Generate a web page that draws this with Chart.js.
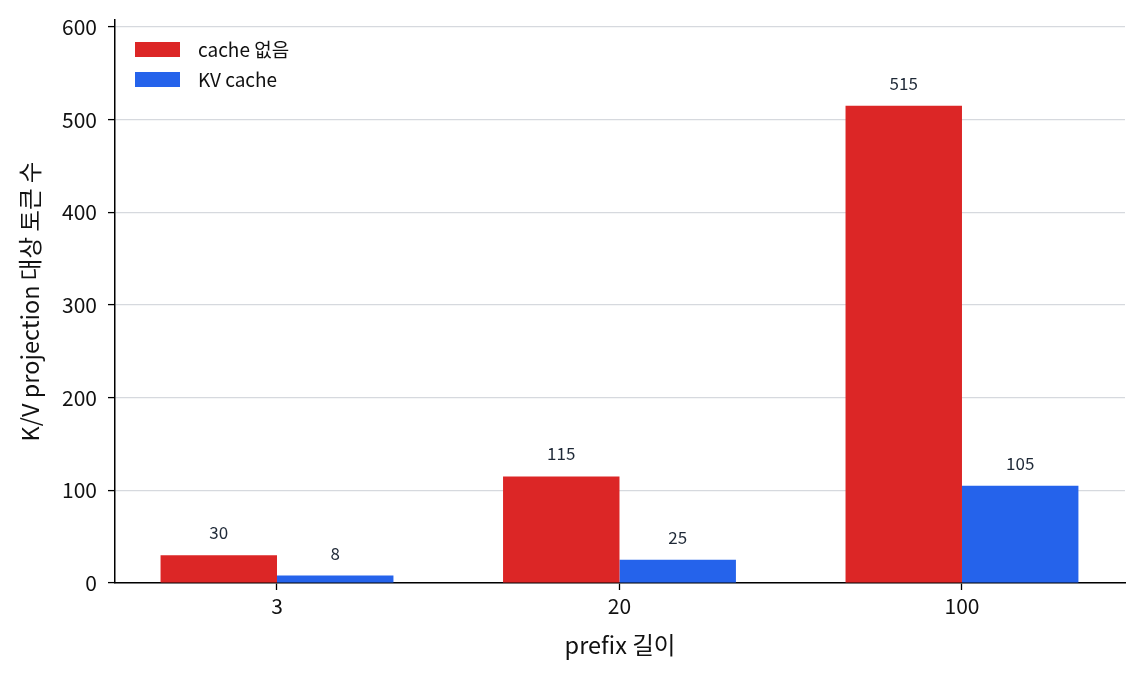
<!DOCTYPE html>
<html>
<head>
<meta charset="utf-8">
<script src="https://cdn.jsdelivr.net/npm/chart.js@4"></script>
<style>
  html, body { margin: 0; padding: 0; background: #fff; }
  #wrap { width: 1143px; height: 674px; }
</style>
</head>
<body>
<div id="wrap"><canvas id="kvChart" width="1143" height="674"></canvas></div>
<script>
const categories = ['3', '20', '100'];
const noCacheValues = [30, 115, 515];
const kvCacheValues = [8, 25, 105];
const yTicks = [0, 100, 200, 300, 400, 500, 600];
const seriesNames = ['cache 없음', 'KV cache'];

const FONT = "'Noto Sans CJK KR', 'Noto Sans', sans-serif";

// bar value labels + legend inside the plot
const labelsPlugin = {
    id: 'valueLabels',
    afterDatasetsDraw(chart) {
        const ctx = chart.ctx;
        ctx.save();
        ctx.font = '17px ' + FONT;
        ctx.fillStyle = '#1f2937';
        ctx.textAlign = 'center';
        ctx.textBaseline = 'alphabetic';
        chart.data.datasets.forEach((ds, di) => {
            chart.getDatasetMeta(di).data.forEach((bar, i) => {
                ctx.fillText(String(ds.data[i].y), bar.x, bar.y - 16);
            });
        });

        // legend
        const area = chart.chartArea;
        ctx.font = '19px ' + FONT;
        ctx.textAlign = 'left';
        ctx.textBaseline = 'middle';
        chart.data.datasets.forEach((ds, di) => {
            const top = area.top + 22 + di * 30;
            ctx.fillStyle = ds.backgroundColor;
            ctx.fillRect(area.left + 20, top, 45, 15);
            ctx.fillStyle = '#111';
            ctx.fillText(ds.label, area.left + 83, top + 8);
        });
        ctx.restore();
    }
};

const ctx = document.getElementById('kvChart').getContext('2d');
new Chart(ctx, {
    type: 'bar',
    data: {
        datasets: [{
            label: seriesNames[0],
            data: noCacheValues.map((v, i) => ({ x: i, y: v })),
            backgroundColor: '#dc2626'
        }, {
            label: seriesNames[1],
            data: kvCacheValues.map((v, i) => ({ x: i, y: v })),
            backgroundColor: '#2563eb'
        }]
    },
    options: {
        responsive: false,
        animation: false,
        barPercentage: 1,
        categoryPercentage: 0.68,
        layout: { padding: { top: 20, right: 18, left: 0, bottom: 0 } },
        plugins: {
            legend: { display: false },
            tooltip: { enabled: false }
        },
        scales: {
            x: {
                type: 'linear',
                offset: false,
                min: -0.473,
                max: 2.476,
                afterBuildTicks(scale) {
                    scale.ticks = categories.map((c, i) => ({ value: i }));
                },
                afterFit(scale) {
                    scale.height = 91;
                    scale.paddingLeft = 0;
                    scale.paddingRight = 0;
                },
                ticks: {
                    color: '#111',
                    font: { family: FONT, size: 21 },
                    padding: 3,
                    callback: (v) => categories[v]
                },
                grid: {
                    offset: false,
                    drawOnChartArea: false,
                    tickColor: '#000',
                    tickLength: 7,
                    tickWidth: 1.3
                },
                border: { color: '#000', width: 1.5 },
                title: {
                    display: true,
                    text: 'prefix 길이',
                    color: '#111',
                    font: { family: FONT, size: 23.5 },
                    padding: { top: 0, bottom: 15 }
                }
            },
            y: {
                min: 0,
                max: 607.5,
                afterBuildTicks(scale) {
                    scale.ticks = yTicks.map(v => ({ value: v }));
                },
                afterFit(scale) {
                    scale.width = 115;
                    scale.paddingTop = 0;
                    scale.paddingBottom = 0;
                },
                ticks: {
                    color: '#111',
                    font: { family: FONT, size: 21 },
                    padding: 11
                },
                grid: {
                    color: '#d6d9de',
                    lineWidth: 1.2,
                    tickColor: '#000',
                    tickLength: 7,
                    tickWidth: 1.3
                },
                border: { color: '#000', width: 1.5 },
                title: {
                    display: true,
                    text: 'K/V projection 대상 토큰 수',
                    color: '#111',
                    font: { family: FONT, size: 23.5 },
                    padding: { top: 16, bottom: 0 }
                }
            }
        }
    },
    plugins: [labelsPlugin]
});
</script>
</body>
</html>
